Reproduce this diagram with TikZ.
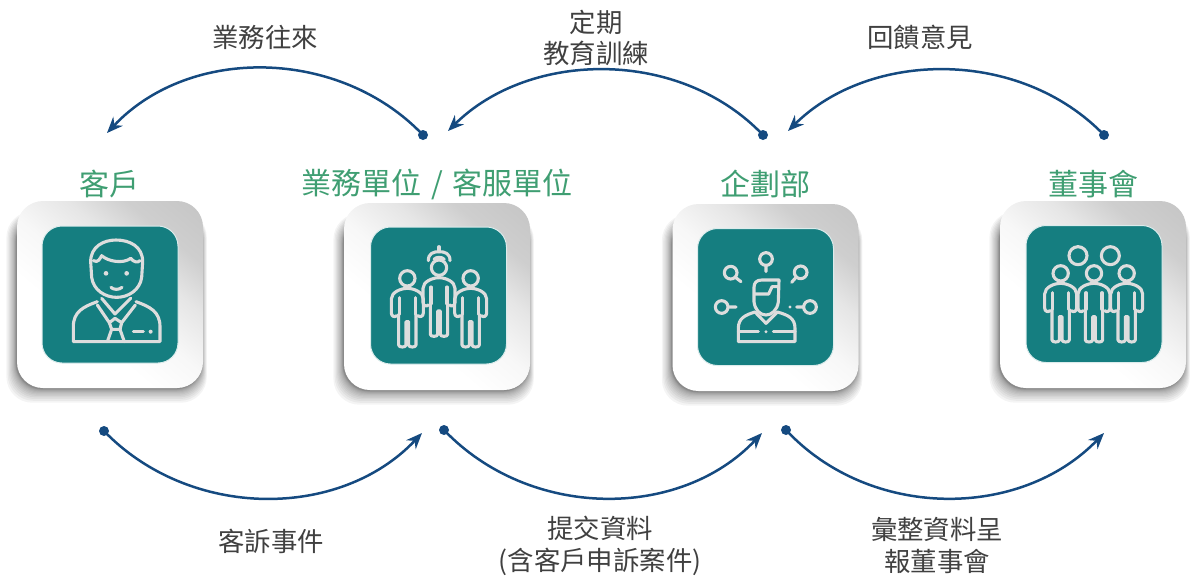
\documentclass[tikz,border=0pt]{standalone}
\usepackage{fontspec}
\setmainfont{Noto Sans CJK TC}
\usetikzlibrary{arrows.meta}
\definecolor{flowblue}{HTML}{154A80}
\definecolor{tealbox}{HTML}{157E80}
\definecolor{labelgreen}{HTML}{3F9E72}
\definecolor{textgrey}{HTML}{404040}
\definecolor{iconline}{HTML}{DDDDDD}
\pgfdeclareverticalshading{cardshade}{100bp}{
  color(0bp)=(white); color(38bp)=(white); color(50bp)=(black!3);
  color(62bp)=(black!10); color(72bp)=(black!19); color(100bp)=(black!27)}
\tikzset{
  flow/.style={draw=flowblue,line width=1.25pt,-{Stealth[length=8pt,width=6.5pt]}},
  flowdot/.style={circle,fill=flowblue,inner sep=0pt,minimum size=5pt},
  cardbox/.style={rounded corners=13pt,inner sep=0pt,minimum width=93pt,minimum height=93.5pt,
    shading=cardshade,shading angle=-40},
  tealpanel/.style={rounded corners=10pt,inner sep=0pt,minimum width=68pt,minimum height=68.5pt,fill=tealbox,draw=white!85!tealbox,line width=.5pt},
  cardtitle/.style={text=labelgreen,font=\fontsize{15}{17}\selectfont,inner sep=0pt},
  captext/.style={text=textgrey,font=\fontsize{13.2}{16}\selectfont,inner sep=0pt,align=center},
  icon/.style={draw=iconline,line width=1.55pt,line join=round,line cap=round},
  icondot/.style={fill=iconline}
}
% center x, center y: soft shadow behind a card
\newcommand{\softshadow}[2]{%
  \foreach \k in {1,...,14}{
    \pgfmathsetmacro{\grow}{\k*\k*.07}
    \fill[black,opacity=.045,rounded corners=13pt]
      ({#1-93-1-\grow*.7},{#2-93+14-\grow*.3}) rectangle ({#1+93+\grow*.35-1},{#2+93.5+1+\grow});
  }}
% person figure in zoomed units, head centre at given point
\newcommand{\iconperson}[2]{%
  \begin{scope}[shift={(#1,#2)}]
    \draw[icon] (0,0) circle (23);
    \draw[icon] (-24,58) -- (-24,108) (24,58) -- (24,108);
    \draw[icon] (-26,108) -- (-26,200) .. controls (-26,208) and (-4,208) .. (-4,200) -- (-4,130) -- (4,130) -- (4,200) .. controls (4,208) and (26,208) .. (26,200) -- (26,108);
    \draw[icon] (-32,112) .. controls (-38,118) and (-48,114) .. (-48,104) -- (-48,62) .. controls (-48,42) and (-20,30) .. (0,30) .. controls (20,30) and (48,42) .. (48,62) -- (48,104) .. controls (48,114) and (38,118) .. (32,112);
  \end{scope}}
\begin{document}
\begin{tikzpicture}[x=.5pt,y=-.5pt]
\useasboundingbox (0,0) rectangle (1200,585);
% cards
\softshadow{110}{294.5}
\softshadow{437}{296.5}
\softshadow{765.5}{297.5}
\softshadow{1093}{294.5}
\node[cardbox] (card1) at (110,294.5) {};
\node[cardbox] (card2) at (437,296.5) {};
\node[cardbox] (card3) at (765.5,297.5) {};
\node[cardbox] (card4) at (1093,294.5) {};
\node[tealpanel] (panel1) at (110,294.5) {};
\node[tealpanel] (panel2) at (438.5,295.5) {};
\node[tealpanel] (panel3) at (765.5,297) {};
\node[tealpanel] (panel4) at (1094,294) {};
% titles
\node[cardtitle] (t1) at (109,184) {客戶};
\node[cardtitle] (t2) at (437,184) {業務單位\hspace{1.5pt} / \hspace{1.5pt}客服單位};
\node[cardtitle] (t3) at (765,184) {企劃部};
\node[cardtitle] (t4) at (1093,184) {董事會};
% captions
\node[captext] (c1) at (265,37) {業務往來};
\node[captext] (c2) at (596,38) {定期\\[-.1pt]教育訓練};
\node[captext] (c3) at (920,37) {回饋意見};
\node[captext] (c4) at (271,541) {客訴事件};
\node[captext] (c5) at (600,546) {提交資料\\(含客戶申訴案件)};
\node[captext] (c6) at (937,545) {彙整資料呈\\報董事會};
% connector ends
\node[flowdot] (s1) at (423,135) {};
\coordinate (e1) at (107,133);
\node[flowdot] (s2) at (763,135) {};
\coordinate (e2) at (448,131);
\node[flowdot] (s3) at (1104,135) {};
\coordinate (e3) at (788,131);
\node[flowdot] (s4) at (104,431) {};
\coordinate (e4) at (422,433);
\node[flowdot] (s5) at (444,430) {};
\coordinate (e5) at (762,433);
\node[flowdot] (s6) at (786,430) {};
\coordinate (e6) at (1104,433);
\draw[flow] (s1.center) .. controls (340,48) and (190,45) .. (e1);
\draw[flow] (s2.center) .. controls (680,48) and (530,50) .. (e2);
\draw[flow] (s3.center) .. controls (1020,48) and (870,50) .. (e3);
\draw[flow] (s4.center) .. controls (190,520) and (340,520) .. (e4);
\draw[flow] (s5.center) .. controls (530,520) and (680,520) .. (e5);
\draw[flow] (s6.center) .. controls (870,520) and (1020,520) .. (e6);
% icon 1
\begin{scope}[shift={(0,190)},x=.16667pt,y=-.16667pt]
  \draw[icon] (275,262) -- (272,215) .. controls (272,170) and (310,150) .. (348,150) .. controls (390,150) and (428,170) .. (428,215) -- (425,262) .. controls (420,300) and (385,322) .. (350,322) .. controls (315,322) and (280,300) .. (275,262);
  \draw[icon] (280,212) .. controls (295,220) and (300,205) .. (305,197) .. controls (325,215) and (370,222) .. (392,205) .. controls (400,215) and (412,220) .. (420,212);
  \fill[icondot] (318,250) circle (7) (380,250) circle (7);
  \draw[icon] (333,292) .. controls (340,300) and (358,300) .. (366,292);
  \draw[icon] (292,335) .. controls (250,350) and (220,365) .. (220,410) -- (220,455) -- (480,455) -- (480,410) .. controls (480,365) and (450,350) .. (408,335);
  \draw[icon] (305,325) -- (345,372) -- (392,325);
  \draw[icon] (292,345) -- (328,398) -- (345,385) -- (365,398) -- (406,345);
  \draw[icon] (328,398) -- (335,418) -- (360,418) -- (365,398);
  \draw[icon] (335,418) -- (322,455) (360,418) -- (373,455);
  \draw[icon] (400,425) -- (430,425);
  \fill[icondot] (452,425) circle (6);
\end{scope}
% icon 2
\begin{scope}[shift={(330,190)},x=.16667pt,y=-.16667pt]
  \draw[icon] (295,212) .. controls (295,190) and (310,185) .. (327,185) .. controls (345,185) and (360,190) .. (360,212);
  \draw[icon] (327,170) -- (327,185);
  \draw[icon] (312,208) .. controls (318,200) and (336,200) .. (343,208);
  \iconperson{232}{265}
  \iconperson{327}{233}
  \iconperson{422}{265}
\end{scope}
% icon 3
\begin{scope}[shift={(660,190)},x=.16667pt,y=-.16667pt]
  \draw[icon] (318,207) circle (19) (318,226) -- (318,245);
  \draw[icon] (212,248) circle (19) (226,262) -- (243,275);
  \draw[icon] (422,247) circle (19) (408,262) -- (395,277);
  \draw[icon] (185,351) circle (19) (204,351) -- (228,351);
  \draw[icon] (450,351) circle (19) (431,351) -- (410,351);
  \fill[icondot] (390,351) circle (5);
  \draw[icon] (282,335) -- (282,292) .. controls (282,278) and (290,270) .. (305,270) -- (357,270) -- (355,335) .. controls (352,360) and (335,375) .. (318,375) .. controls (300,375) and (285,360) .. (282,335);
  \draw[icon] (284,312) -- (326,312) -- (336,290) -- (355,290);
  \draw[icon] (285,366) .. controls (255,375) and (235,385) .. (235,415) -- (235,455) -- (405,455) -- (405,415) .. controls (405,385) and (385,375) .. (352,366);
  \draw[icon] (285,366) -- (318,400) -- (352,366);
  \draw[icon] (235,425) -- (295,425) (340,425) -- (405,425);
  \fill[icondot] (318,425) circle (5);
\end{scope}
% icon 4
\begin{scope}[shift={(990,190)},x=.16667pt,y=-.16667pt]
  \draw[icon] (264,197) circle (27);
  \draw[icon] (361,197) circle (27);
  \iconperson{212}{250}
  \iconperson{312}{250}
  \iconperson{410}{250}
\end{scope}
\end{tikzpicture}
\end{document}
